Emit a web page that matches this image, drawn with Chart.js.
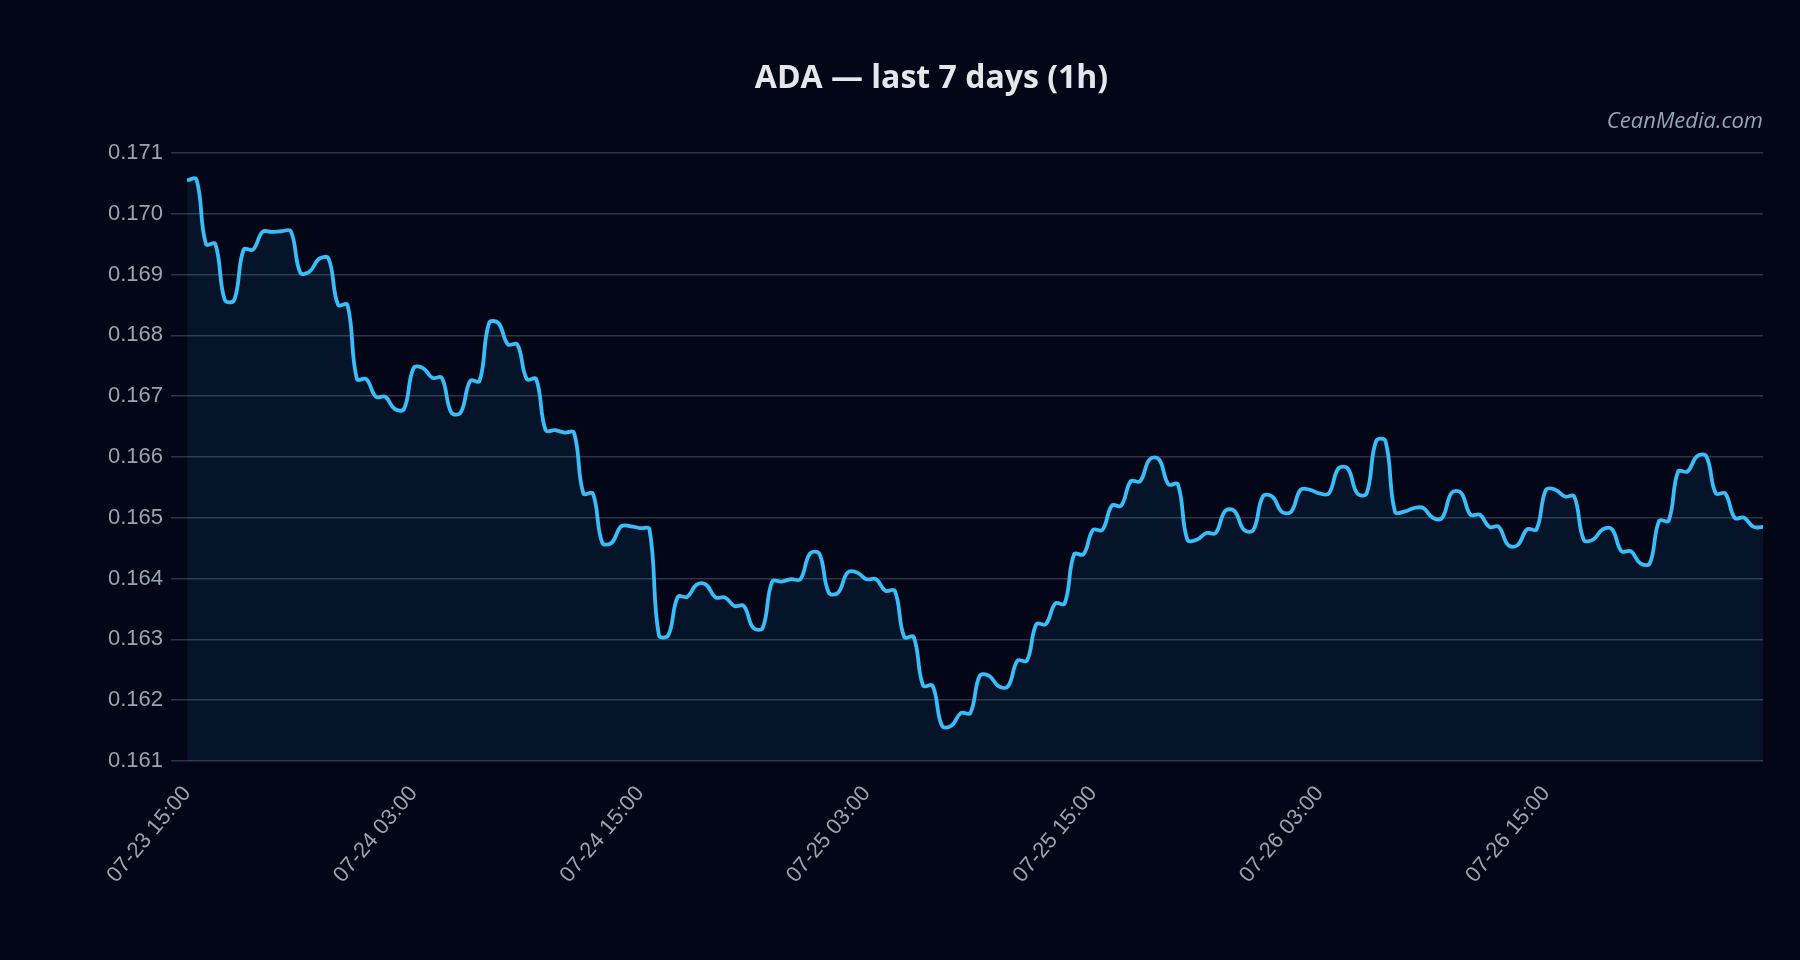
<!DOCTYPE html>
<html>
<head>
<meta charset="utf-8">
<title>ADA — last 7 days (1h)</title>
<script src="https://cdn.jsdelivr.net/npm/chart.js@4.4.1/dist/chart.umd.min.js"></script>
<style>
  html,body{margin:0;padding:0;background:#020617;}
  #wrap{width:1800px;height:960px;position:relative;}
</style>
</head>
<body>
<div id="wrap"><canvas id="priceChart"></canvas></div>
<script>
const symbol = 'ADA';
const startDay = 23, startHour = 15;   // 07-23 15:00, one sample every 30 min
const stepMinutes = 30;

// ADA price samples (USD)
const prices = [
  0.17055,0.17056, 0.16950,0.16950, 0.16858,0.16858, 0.16941,0.16941,
  0.16970,0.16970, 0.16971,0.16971, 0.16903,0.16905, 0.16926,0.16926,
  0.16850,0.16850, 0.16728,0.16728, 0.16699,0.16699, 0.16679,0.16679,
  0.16746,0.16746, 0.16730,0.16730, 0.16673,0.16673, 0.16725,0.16725,
  0.16820,0.16820, 0.16785,0.16785, 0.16728,0.16728, 0.16644,0.16644,
  0.16640,0.16640, 0.16540,0.16540, 0.16459,0.16459, 0.16486,0.16486,
  0.16483,0.16481, 0.16307,0.16307, 0.16370,0.16370, 0.16390,0.16390,
  0.16369,0.16369, 0.16355,0.16355, 0.16319,0.16319, 0.16395,0.16395,
  0.16399,0.16399, 0.16441,0.16441, 0.16377,0.16377, 0.16410,0.16410,
  0.16399,0.16399, 0.16380,0.16380, 0.16304,0.16304, 0.16224,0.16224,
  0.16158,0.16158, 0.16179,0.16179, 0.16240,0.16240, 0.16223,0.16223,
  0.16265,0.16265, 0.16325,0.16325, 0.16359,0.16359, 0.16440,0.16440,
  0.16480,0.16480, 0.16520,0.16520, 0.16560,0.16560, 0.16596,0.16596,
  0.16555,0.16555, 0.16464,0.16464, 0.16475,0.16475, 0.16511,0.16511,
  0.16480,0.16480, 0.16535,0.16535, 0.16510,0.16510, 0.16546,0.16546,
  0.16540,0.16540, 0.16581,0.16581, 0.16540,0.16540, 0.16626,0.16626,
  0.16510,0.16510, 0.16516,0.16516, 0.16500,0.16500, 0.16541,0.16541,
  0.16505,0.16505, 0.16485,0.16485, 0.16455,0.16455, 0.16481,0.16481,
  0.16546,0.16546, 0.16535,0.16535, 0.16464,0.16464, 0.16481,0.16481,
  0.16445,0.16445, 0.16425,0.16425, 0.16495,0.16495, 0.16576,0.16576,
  0.16601,0.16601, 0.16540,0.16540, 0.16500,0.16500, 0.16485,0.16485
];

const yMin = 0.161, yMax = 0.171, yStep = 0.001;
const labelEvery = 24;   // one x label per 12h

const pad = n => String(n).padStart(2,'0');
const labels = prices.map((_,i)=>{
  const mins = startHour*60 + i*stepMinutes;
  const d = startDay + Math.floor(mins/1440);
  const m = mins % 1440;
  return `07-${pad(d)} ${pad(Math.floor(m/60))}:${pad(m%60)}`;
});

const tickFont = {family:"'Liberation Sans', Arial, sans-serif", size:22};
const tickColor = '#9aa3b1';

new Chart(document.getElementById('priceChart'), {
  type:'line',
  data:{
    labels,
    datasets:[{
      label:symbol,
      data:prices,
      borderColor:'#38bdf8',
      backgroundColor:'rgba(56,189,248,0.08)',
      borderWidth:3.8,
      pointRadius:0,
      tension:0.4,
      fill:'start'
    }]
  },
  options:{
    responsive:true,
    maintainAspectRatio:false,
    animation:false,
    layout:{padding:{left:100, right:37, top:50, bottom:68}},
    plugins:{
      legend:{display:false},
      tooltip:{enabled:false},
      title:{display:true, text:`${symbol} — last 7 days (1h)`, color:'#e5e7eb',
        font:{family:"'Open Sans', sans-serif", size:32, weight:'bold'}, padding:{top:10,bottom:10}},
      subtitle:{display:true, text:'CeanMedia.com', align:'end', color:'#94a3b8',
        font:{family:"'Open Sans', sans-serif", size:22, style:'italic'}, padding:{top:0,bottom:18}}
    },
    scales:{
      x:{
        grid:{display:false, tickLength:16},
        border:{display:false},
        ticks:{color:tickColor, font:tickFont, autoSkip:false, minRotation:50, maxRotation:50, padding:4,
          callback:(v,i)=> i % labelEvery === 0 ? labels[i] : null}
      },
      y:{
        min:yMin, max:yMax,
        grid:{color:'#2c3546', lineWidth:1.5, tickLength:16},
        border:{display:false},
        ticks:{stepSize:yStep, color:tickColor, font:tickFont, padding:8, callback:v=>v.toFixed(3)}
      }
    }
  }
});
</script>
</body>
</html>
